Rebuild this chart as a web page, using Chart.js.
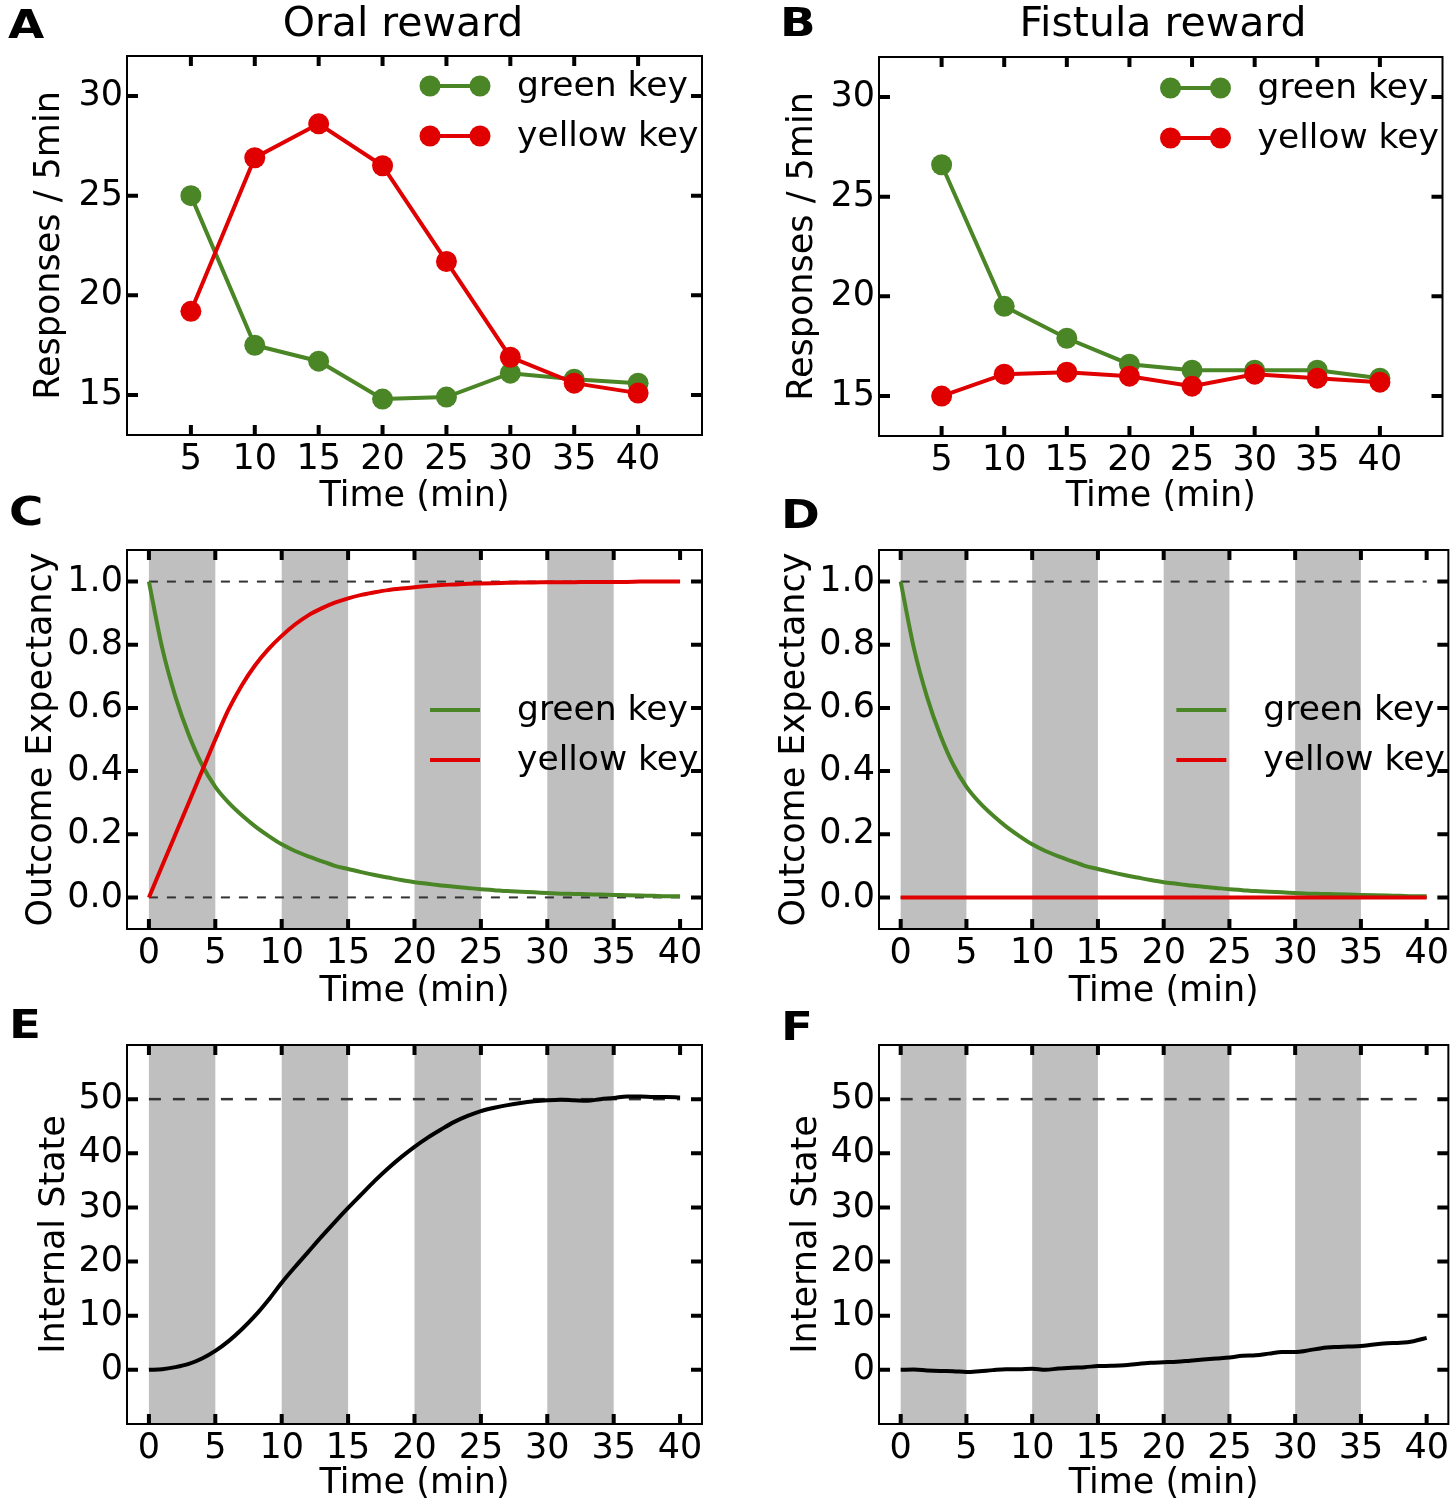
<!DOCTYPE html>
<html>
<head>
<meta charset="utf-8">
<script src="https://cdn.jsdelivr.net/npm/chart.js@4.4.1/dist/chart.umd.min.js"></script>
<style>
  body { margin: 0; background: #fff; }
  #fig { position: relative; width: 1453px; height: 1500px; overflow: hidden; font-family: 'DejaVu Sans', sans-serif; }
  #fig canvas { position: absolute; }
  .letter { position: absolute; font-weight: bold; font-size: 39px; line-height: 39px; transform: scaleX(1.2); transform-origin: left top; }
  .title { position: absolute; font-size: 41px; line-height: 41px; width: 600px; text-align: center; }
</style>
</head>
<body>
<div id="fig">
  <canvas id="chartA" width="720" height="515" style="left:0px;top:0px"></canvas>
  <canvas id="chartB" width="723" height="515" style="left:730px;top:0px"></canvas>
  <canvas id="chartC" width="720" height="495" style="left:0px;top:515px"></canvas>
  <canvas id="chartD" width="723" height="495" style="left:730px;top:515px"></canvas>
  <canvas id="chartE" width="720" height="490" style="left:0px;top:1010px"></canvas>
  <canvas id="chartF" width="723" height="490" style="left:730px;top:1010px"></canvas>

  <div class="letter" style="left:8px;top:5px">A</div>
  <div class="letter" style="left:780px;top:3px">B</div>
  <div class="letter" style="left:9px;top:492px">C</div>
  <div class="letter" style="left:781px;top:495px">D</div>
  <div class="letter" style="left:9px;top:1005px">E</div>
  <div class="letter" style="left:781px;top:1007px">F</div>
  <div class="title" style="left:103px;top:2px">Oral reward</div>
  <div class="title" style="left:863px;top:2px">Fistula reward</div>
</div>

<script>
// --- data ---
const blockMinutes = [5, 10, 15, 20, 25, 30, 35, 40];
const oralGreen = [25.0, 17.5, 16.7, 14.8, 14.9, 16.1, 15.8, 15.6];
const oralYellow = [19.2, 26.9, 28.6, 26.5, 21.7, 16.9, 15.6, 15.1];
const fistulaGreen = [26.6, 19.5, 17.9, 16.6, 16.3, 16.3, 16.3, 15.9];
const fistulaYellow = [15.0, 16.1, 16.2, 16.0, 15.5, 16.1, 15.9, 15.7];

const minutes = [0, 1, 2, 3, 4, 5, 6, 7, 8, 9, 10, 11, 12, 13, 14, 15, 16, 17, 18, 19, 20,
  21, 22, 23, 24, 25, 26, 27, 28, 29, 30, 31, 32, 33, 34, 35, 36, 37, 38, 39, 40];
const expectGreenOral = [1.0, 0.79, 0.635, 0.515, 0.42, 0.35, 0.30, 0.26, 0.225, 0.195, 0.168,
  0.147, 0.13, 0.115, 0.1, 0.09, 0.08, 0.071, 0.063, 0.055, 0.048, 0.043, 0.038, 0.034, 0.03,
  0.026, 0.023, 0.02, 0.018, 0.016, 0.014, 0.012, 0.011, 0.01, 0.009, 0.008, 0.007, 0.006,
  0.005, 0.004, 0.004];
const expectYellowOral = [0, 0.1, 0.2, 0.3, 0.4, 0.5, 0.595, 0.672, 0.735, 0.786, 0.828,
  0.864, 0.893, 0.915, 0.933, 0.947, 0.958, 0.966, 0.973, 0.978, 0.982, 0.986, 0.989, 0.991,
  0.993, 0.994, 0.995, 0.996, 0.997, 0.997, 0.998, 0.998, 0.998, 0.999, 0.999, 0.999, 0.999,
  1.0, 1.0, 1.0, 1.0];
const expectGreenFistula = [1.0, 0.79, 0.635, 0.515, 0.42, 0.35, 0.30, 0.26, 0.225, 0.195, 0.168,
  0.147, 0.13, 0.115, 0.1, 0.09, 0.08, 0.071, 0.063, 0.055, 0.048, 0.043, 0.038, 0.034, 0.03,
  0.026, 0.023, 0.02, 0.018, 0.016, 0.014, 0.012, 0.011, 0.01, 0.009, 0.008, 0.007, 0.006,
  0.005, 0.004, 0.004];
const expectYellowFistula = [0, 0, 0, 0, 0, 0, 0, 0, 0, 0, 0, 0, 0, 0, 0, 0, 0, 0, 0, 0, 0,
  0, 0, 0, 0, 0, 0, 0, 0, 0, 0, 0, 0, 0, 0, 0, 0, 0, 0, 0, 0];
const stateOral = [0, 0.1, 0.5, 1.1, 2.1, 3.5, 5.3, 7.5, 10.0, 12.9, 16.1, 19.0, 21.8, 24.6,
  27.3, 29.9, 32.4, 34.9, 37.2, 39.3, 41.2, 42.9, 44.4, 45.8, 46.9, 47.8, 48.4, 48.9, 49.3,
  49.6, 49.8, 49.9, 49.8, 49.7, 50.0, 50.2, 50.5, 50.5, 50.4, 50.4, 50.3];
const stateFistula = [0, 0.05, -0.1, -0.2, -0.25, -0.4, -0.25, -0.05, 0.1, 0.1, 0.2, 0, 0.25,
  0.4, 0.5, 0.7, 0.75, 0.85, 1.1, 1.3, 1.4, 1.5, 1.7, 1.9, 2.1, 2.3, 2.6, 2.7, 3.0, 3.3, 3.3,
  3.6, 4.0, 4.2, 4.3, 4.4, 4.7, 4.9, 5.0, 5.3, 5.9];

// shaded 5-min periods and reference levels
const bandStarts = [0, 10, 20, 30];
const bandLength = 5;
const expectRefLevels = [0, 1];
const stateRefLevels = [50];

// tick labels
const blockTicks = [5, 10, 15, 20, 25, 30, 35, 40];
const timeTicks = [0, 5, 10, 15, 20, 25, 30, 35, 40];
const responseTicks = [15, 20, 25, 30];
const expectTicks = [0, 0.2, 0.4, 0.6, 0.8, 1.0];
const stateTicks = [0, 10, 20, 30, 40, 50];

const GREEN = '#4a8526';
const RED = '#e00000';
const FONT = "'DejaVu Sans', sans-serif";
const TICK_SIZE = 35;
const LABEL_SIZE = 35;

Chart.defaults.font.family = FONT;
Chart.defaults.color = '#000';
Chart.defaults.animation = false;

const pts = (xs, ys) => xs.map((x, i) => ({ x: x, y: ys[i] }));

// grey bands + dashed reference lines, under the curves
const bandsPlugin = {
  id: 'bands',
  beforeDatasetsDraw(chart, args, opts) {
    const { ctx, chartArea: a, scales: { x, y } } = chart;
    ctx.save();
    ctx.fillStyle = '#bfbfbf';
    (opts.starts || []).forEach(s => {
      const x0 = x.getPixelForValue(s);
      const x1 = x.getPixelForValue(s + bandLength);
      ctx.fillRect(x0, a.top, x1 - x0, a.bottom - a.top);
    });
    ctx.strokeStyle = '#333';
    ctx.lineWidth = opts.dashWidth || 2;
    ctx.setLineDash(opts.dash || [9, 9]);
    (opts.levels || []).forEach(v => {
      const py = y.getPixelForValue(v);
      ctx.beginPath();
      ctx.moveTo(x.getPixelForValue(0), py);
      ctx.lineTo(x.getPixelForValue(40), py);
      ctx.stroke();
    });
    ctx.restore();
  }
};

// box round the axes with inward ticks on all four sides
const framePlugin = {
  id: 'frame',
  afterDraw(chart) {
    const { ctx, chartArea: a, scales: { x, y } } = chart;
    ctx.save();
    ctx.strokeStyle = '#000';
    ctx.lineWidth = 4;
    ctx.beginPath();
    x.ticks.forEach(t => {
      const px = x.getPixelForValue(t.value);
      ctx.moveTo(px, a.top); ctx.lineTo(px, a.top + 10);
      ctx.moveTo(px, a.bottom); ctx.lineTo(px, a.bottom - 10);
    });
    y.ticks.forEach(t => {
      const py = y.getPixelForValue(t.value);
      ctx.moveTo(a.left, py); ctx.lineTo(a.left + 11, py);
      ctx.moveTo(a.right, py); ctx.lineTo(a.right - 11, py);
    });
    ctx.stroke();
    ctx.lineWidth = 2;
    ctx.strokeRect(a.left, a.top, a.right - a.left, a.bottom - a.top);
    ctx.restore();
  }
};

// legend drawn inside the axes, matplotlib style
const keyLegendPlugin = {
  id: 'keyLegend',
  afterDraw(chart, args, opts) {
    if (!opts.rowY) return;
    const { ctx, chartArea: a } = chart;
    ctx.save();
    chart.data.datasets.forEach((ds, i) => {
      const yy = a.top + opts.rowY + i * 50;
      const x1 = a.right - 272, x2 = a.right - 222;
      ctx.strokeStyle = ds.borderColor;
      ctx.lineWidth = 4;
      ctx.beginPath(); ctx.moveTo(x1, yy); ctx.lineTo(x2, yy); ctx.stroke();
      if (opts.markers) {
        ctx.fillStyle = ds.borderColor;
        [x1, x2].forEach(xm => { ctx.beginPath(); ctx.arc(xm, yy, 10.5, 0, 2 * Math.PI); ctx.fill(); });
      }
      ctx.fillStyle = '#000';
      ctx.font = '34.5px ' + FONT;
      ctx.textBaseline = 'middle';
      ctx.fillText(ds.label, a.right - 185, yy + 1);
    });
    ctx.restore();
  }
};

function panel(id, o) {
  return new Chart(document.getElementById(id), {
    type: 'line',
    data: { datasets: o.datasets },
    options: {
      responsive: false,
      events: [],
      layout: { padding: { top: o.top, right: o.right, left: 0, bottom: 0 } },
      scales: {
        x: {
          type: 'linear', min: o.xMin, max: o.xMax,
          afterBuildTicks: s => { s.ticks = o.xTicks.map(v => ({ value: v })); },
          afterFit: s => { s.height = o.xAxisH; },
          grid: { display: false, drawTicks: false },
          border: { display: false },
          ticks: { padding: 4, autoSkip: false, maxRotation: 0, font: { size: TICK_SIZE }, callback: v => String(v) },
          title: { display: true, text: 'Time (min)', font: { size: LABEL_SIZE }, padding: { top: 0, bottom: o.xTitlePad } }
        },
        y: {
          type: 'linear', min: o.yMin, max: o.yMax,
          afterBuildTicks: s => { s.ticks = o.yTicks.map(v => ({ value: v })); },
          afterFit: s => { s.width = o.yAxisW; },
          grid: { display: false, drawTicks: false },
          border: { display: false },
          ticks: { padding: 4, autoSkip: false, font: { size: TICK_SIZE }, callback: o.yFmt || (v => String(v)) },
          title: { display: true, text: o.yTitle, font: { size: LABEL_SIZE }, padding: { top: o.yTitlePad, bottom: 0 } }
        }
      },
      plugins: {
        legend: { display: false },
        tooltip: { enabled: false },
        bands: o.bands || {},
        keyLegend: o.legend || {}
      }
    },
    plugins: [bandsPlugin, framePlugin, keyLegendPlugin]
  });
}

function markerSeries(label, color, xs, ys, order) {
  return { label: label, data: pts(xs, ys), borderColor: color, backgroundColor: color, borderWidth: 4,
    pointRadius: 10.5, pointBorderWidth: 0, pointBackgroundColor: color, order: order };
}
function curveSeries(label, color, xs, ys, order) {
  return { label: label, data: pts(xs, ys), borderColor: color, backgroundColor: color, borderWidth: 4,
    pointRadius: 0, cubicInterpolationMode: 'monotone', order: order };
}

const leftCol = { yAxisW: 127, right: 18 };
const rightCol = { yAxisW: 149, right: 2 };

// A: oral reward, responses
panel('chartA', Object.assign({}, leftCol, {
  top: 56, xAxisH: 80, xTitlePad: -3, yTitlePad: 29,
  xMin: 0, xMax: 45, xTicks: blockTicks, yMin: 13, yMax: 32, yTicks: responseTicks,
  yTitle: 'Responses / 5min',
  datasets: [markerSeries('green key', GREEN, blockMinutes, oralGreen, 1),
             markerSeries('yellow key', RED, blockMinutes, oralYellow, 0)],
  legend: { rowY: 30, markers: true }
}));

// B: fistula reward, responses
panel('chartB', Object.assign({}, rightCol, {
  top: 57, xAxisH: 79, xTitlePad: -3, yTitlePad: 52,
  xMin: 0, xMax: 45, xTicks: blockTicks, yMin: 13, yMax: 32, yTicks: responseTicks,
  yTitle: 'Responses / 5min',
  datasets: [markerSeries('green key', GREEN, blockMinutes, fistulaGreen, 1),
             markerSeries('yellow key', RED, blockMinutes, fistulaYellow, 0)],
  legend: { rowY: 31, markers: true }
}));

const fmt1 = v => v.toFixed(1);

// C: oral reward, outcome expectancy
panel('chartC', Object.assign({}, leftCol, {
  top: 35, xAxisH: 81, xTitlePad: -3, yTitlePad: 21,
  xMin: -1.65, xMax: 41.65, xTicks: timeTicks, yMin: -0.1, yMax: 1.1, yTicks: expectTicks, yFmt: fmt1,
  yTitle: 'Outcome Expectancy',
  datasets: [curveSeries('green key', GREEN, minutes, expectGreenOral, 1),
             curveSeries('yellow key', RED, minutes, expectYellowOral, 0)],
  bands: { starts: bandStarts, levels: expectRefLevels, dash: [9, 9], dashWidth: 2 },
  legend: { rowY: 160, markers: false }
}));

// D: fistula reward, outcome expectancy
panel('chartD', Object.assign({}, rightCol, {
  top: 35, xAxisH: 81, xTitlePad: -3, yTitlePad: 44,
  xMin: -1.65, xMax: 41.65, xTicks: timeTicks, yMin: -0.1, yMax: 1.1, yTicks: expectTicks, yFmt: fmt1,
  yTitle: 'Outcome Expectancy',
  datasets: [curveSeries('green key', GREEN, minutes, expectGreenFistula, 1),
             curveSeries('yellow key', RED, minutes, expectYellowFistula, 0)],
  bands: { starts: bandStarts, levels: expectRefLevels, dash: [9, 9], dashWidth: 2 },
  legend: { rowY: 160, markers: false }
}));

// E: oral reward, internal state
panel('chartE', Object.assign({}, leftCol, {
  top: 35, xAxisH: 76, xTitlePad: -5, yTitlePad: 34,
  xMin: -1.65, xMax: 41.65, xTicks: timeTicks, yMin: -10, yMax: 60, yTicks: stateTicks,
  yTitle: 'Internal State',
  datasets: [curveSeries('internal state', '#000', minutes, stateOral, 0)],
  bands: { starts: bandStarts, levels: stateRefLevels, dash: [12, 12], dashWidth: 2.5 }
}));

// F: fistula reward, internal state
panel('chartF', Object.assign({}, rightCol, {
  top: 35, xAxisH: 76, xTitlePad: -5, yTitlePad: 56,
  xMin: -1.65, xMax: 41.65, xTicks: timeTicks, yMin: -10, yMax: 60, yTicks: stateTicks,
  yTitle: 'Internal State',
  datasets: [curveSeries('internal state', '#000', minutes, stateFistula, 0)],
  bands: { starts: bandStarts, levels: stateRefLevels, dash: [12, 12], dashWidth: 2.5 }
}));
</script>
</body>
</html>
